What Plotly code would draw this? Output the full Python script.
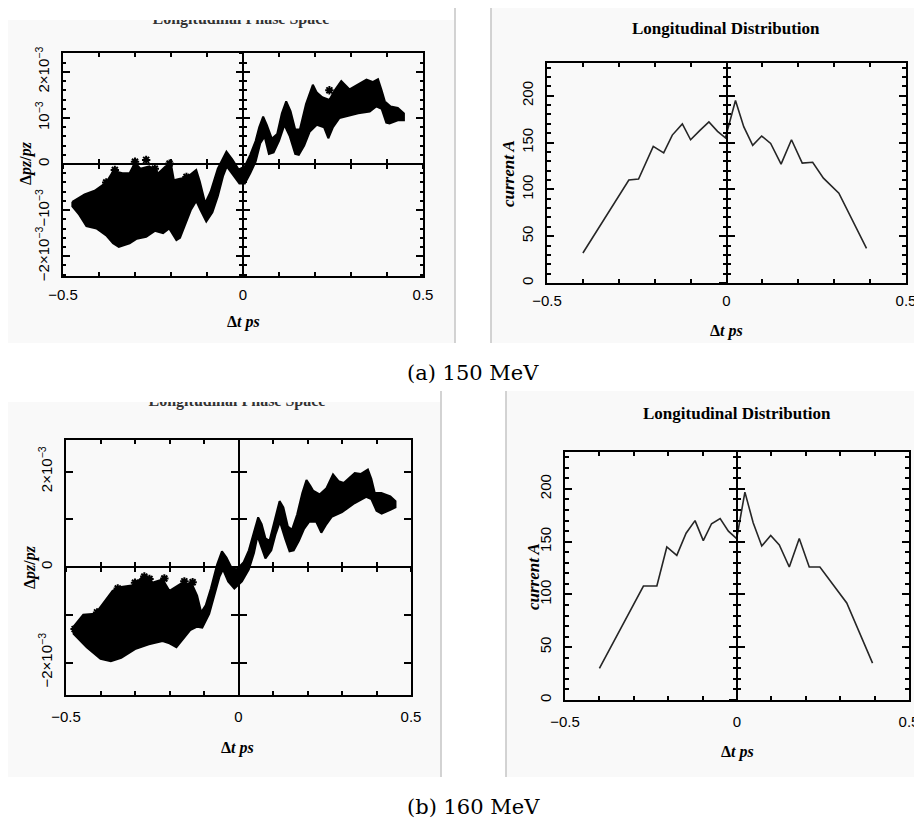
import numpy as np
import plotly.graph_objects as go

W, H = 922, 821          # browser window
OFF = 8                  # default page-body margin of the html page
FW, FH = W - OFF, H - OFF

# ================= DATA =================
# (a) 150 MeV : longitudinal phase space, dpz/pz in units of 1e-3 (outline of the dense point cloud)
a_up_t = [-0.474, -0.44, -0.412, -0.38, -0.36, -0.335, -0.315, -0.3, -0.285, -0.26, -0.235, -0.215, -0.2,
          -0.192, -0.175, -0.157, -0.13, -0.12, -0.105, -0.09, -0.07, -0.046, -0.03, -0.012, 0.005, 0.02,
          0.035, 0.045, 0.056, 0.066, 0.08, 0.095, 0.108, 0.12, 0.132, 0.145, 0.158, 0.175, 0.194, 0.205,
          0.22, 0.24, 0.255, 0.273, 0.296, 0.32, 0.343, 0.36, 0.375, 0.385, 0.394, 0.41, 0.43, 0.447]
a_up_v = [-0.82, -0.66, -0.58, -0.4, -0.15, -0.2, -0.2, 0.03, -0.1, -0.05, -0.2, -0.05, 0.0,
          -0.35, -0.32, -0.3, -0.13, -0.38, -0.85, -0.6, -0.1, 0.27, 0.1, -0.12, -0.05, 0.2,
          0.5, 0.8, 1.03, 0.85, 0.55, 0.65, 1.1, 1.36, 1.15, 0.75, 0.75, 1.3, 1.72, 1.55,
          1.45, 1.39, 1.6, 1.8, 1.62, 1.72, 1.83, 1.78, 1.84, 1.6, 1.36, 1.25, 1.22, 1.1]
a_lo_t = [0.447, 0.43, 0.407, 0.398, 0.385, 0.37, 0.352, 0.32, 0.29, 0.268, 0.25, 0.237, 0.225, 0.205,
          0.185, 0.17, 0.155, 0.145, 0.13, 0.115, 0.1, 0.085, 0.072, 0.06, 0.048, 0.035, 0.02, 0.005,
          -0.01, -0.03, -0.045, -0.055, -0.07, -0.085, -0.102, -0.118, -0.13, -0.145, -0.16, -0.175,
          -0.185, -0.205, -0.222, -0.245, -0.269, -0.295, -0.315, -0.345, -0.361, -0.38, -0.407,
          -0.435, -0.455, -0.474]
a_lo_v = [0.95, 0.95, 0.88, 0.9, 1.2, 1.25, 1.14, 1.1, 1.05, 1.0, 0.8, 0.56, 0.8, 0.85,
          0.7, 0.4, 0.2, 0.22, 0.6, 0.85, 0.5, 0.25, 0.22, 0.6, 0.45, 0.05, -0.2, -0.42,
          -0.42, -0.2, -0.05, -0.25, -0.7, -1.05, -1.25, -1.0, -0.8, -1.0, -1.3, -1.6,
          -1.65, -1.4, -1.5, -1.45, -1.58, -1.62, -1.72, -1.8, -1.72, -1.55, -1.4,
          -1.35, -1.1, -0.92]
a_out_t = [-0.269, -0.3, -0.356, -0.204, -0.213, -0.157, -0.245, -0.38, 0.24]
a_out_v = [0.09, 0.05, -0.13, 0.01, -0.18, -0.28, -0.1, -0.4, 1.6]

# (b) 160 MeV : longitudinal phase space, dpz/pz in units of 1e-3
b_up_t = [-0.478, -0.45, -0.415, -0.39, -0.365, -0.34, -0.305, -0.28, -0.25, -0.22, -0.2, -0.165, -0.135,
          -0.12, -0.108, -0.095, -0.08, -0.062, -0.048, -0.035, -0.02, -0.005, 0.015, 0.03, 0.045, 0.057,
          0.067, 0.078, 0.09, 0.105, 0.119, 0.13, 0.143, 0.155, 0.17, 0.185, 0.197, 0.208, 0.216, 0.235,
          0.255, 0.274, 0.29, 0.305, 0.32, 0.337, 0.355, 0.375, 0.385, 0.395, 0.414, 0.44, 0.455]
b_up_v = [-1.25, -1.0, -0.98, -0.75, -0.5, -0.42, -0.38, -0.22, -0.33, -0.26, -0.5, -0.34, -0.36,
          -0.6, -0.95, -0.8, -0.45, 0.05, 0.33, 0.2, -0.02, -0.05, 0.1, 0.35, 0.75, 1.04,
          0.9, 0.6, 0.55, 1.0, 1.38, 1.25, 0.85, 0.78, 1.1, 1.55, 1.82, 1.7, 1.6, 1.52,
          1.65, 1.94, 1.8, 1.76, 1.85, 1.97, 1.95, 2.04, 1.85, 1.55, 1.55, 1.48, 1.38]
b_lo_t = [0.455, 0.44, 0.415, 0.4, 0.385, 0.37, 0.337, 0.3, 0.27, 0.255, 0.24, 0.225, 0.205, 0.19,
          0.175, 0.16, 0.148, 0.135, 0.12, 0.108, 0.095, 0.078, 0.065, 0.055, 0.045, 0.03, 0.01,
          -0.012, -0.03, -0.045, -0.055, -0.07, -0.085, -0.105, -0.12, -0.14, -0.16, -0.18, -0.2,
          -0.22, -0.26, -0.3, -0.34, -0.37, -0.4, -0.44, -0.478]
b_lo_v = [1.25, 1.2, 1.12, 1.18, 1.42, 1.47, 1.34, 1.15, 1.05, 0.9, 0.72, 0.95, 0.95, 0.8,
          0.55, 0.35, 0.33, 0.6, 0.95, 0.7, 0.35, 0.18, 0.45, 0.65, 0.3, -0.05, -0.3,
          -0.45, -0.3, -0.05, -0.2, -0.62, -0.98, -1.27, -1.25, -1.32, -1.5, -1.68, -1.6,
          -1.55, -1.62, -1.72, -1.9, -1.97, -1.92, -1.68, -1.4]
b_out_t = [-0.273, -0.258, -0.215, -0.35, -0.157, -0.133, -0.3, -0.41, -0.475]
b_out_v = [-0.2, -0.25, -0.24, -0.45, -0.3, -0.32, -0.33, -0.95, -1.3]

# current profiles (A) vs Δt (ps)
a_cur_t = [-0.40, -0.272, -0.245, -0.204, -0.175, -0.151, -0.123, -0.100, -0.074, -0.049, -0.025,
           -0.003, 0.025, 0.048, 0.073, 0.098, 0.123, 0.152, 0.181, 0.211, 0.240, 0.270, 0.313, 0.390]
a_cur_I = [32, 110, 111, 146, 139, 158, 170, 153, 163, 172, 162, 155, 195, 167, 147, 157, 149, 127,
           153, 128, 129, 112, 96, 37]
b_cur_t = [-0.40, -0.272, -0.233, -0.204, -0.175, -0.148, -0.122, -0.098, -0.074, -0.049, -0.025,
           -0.001, 0.023, 0.047, 0.072, 0.098, 0.123, 0.152, 0.181, 0.210, 0.241, 0.270, 0.319, 0.394]
b_cur_I = [30, 108, 108, 145, 137, 158, 170, 151, 167, 172, 160, 153, 197, 168, 146, 156, 147, 126,
           153, 126, 126, 113, 92, 35]

x_tickvals = [-0.5, 0, 0.5]
x_ticktext = ["\u22120.5", "0", "0.5"]
a_ytickvals = [-2e-3, -1e-3, 0, 1e-3, 2e-3]
a_yticktext = ["\u22122\u00d710<sup>\u22123</sup>", "\u221210<sup>\u22123</sup>", "0",
               "10<sup>\u22123</sup>", "2\u00d710<sup>\u22123</sup>"]
b_ytickvals = [-2e-3, -1e-3, 0, 1e-3, 2e-3]
b_yticktext = ["\u22122\u00d710<sup>\u22123</sup>", "", "0", "", "2\u00d710<sup>\u22123</sup>"]
cur_tickvals = [0, 50, 100, 150, 200]
cur_ticktext = ["0", "50", "100", "150", "200"]

# ================= LAYOUT =================
def fx(p):          # page pixel -> paper fraction
    return (p - OFF) / FW

def fy(p):
    return 1 - (p - OFF) / FH

TICKFONT = dict(family="Liberation Sans", size=15, color="black")
SERIF_B = "Liberation Serif"

# panel boxes in page pixels: (x0, x1, ytop, ybottom)
P = {
    1: (63, 423, 53, 276),
    2: (547, 906, 63, 283),
    3: (66, 411, 440, 695),
    4: (565, 909, 452, 700),
}
yr = {1: [-2.43e-3, 2.41e-3], 2: [0, 235], 3: [-2.68e-3, 2.66e-3], 4: [0, 235]}
x_standoff = {1: 4, 2: 3, 3: 7, 4: 7}

def name(a, k):
    return a if k == 1 else f"{a}{k}"

fig = go.Figure()

for k, (ut, uv, lt, lv, ot, ov) in {1: (a_up_t, a_up_v, a_lo_t, a_lo_v, a_out_t, a_out_v),
                                    3: (b_up_t, b_up_v, b_lo_t, b_lo_v, b_out_t, b_out_v)}.items():
    xs = list(ut) + list(lt) + [ut[0]]
    ys = (np.array(list(uv) + list(lv) + [uv[0]]) * 1e-3).tolist()
    fig.add_trace(go.Scatter(x=xs, y=ys, mode="lines", fill="toself", fillcolor="black",
                             line=dict(color="black", width=2), xaxis=name("x", k),
                             yaxis=name("y", k), hoverinfo="skip", showlegend=False))
    fig.add_trace(go.Scatter(x=ot, y=(np.array(ov) * 1e-3).tolist(), mode="markers",
                             marker=dict(symbol="asterisk-open", size=7, color="black",
                                         line=dict(color="black", width=2)),
                             xaxis=name("x", k), yaxis=name("y", k),
                             hoverinfo="skip", showlegend=False))

for k, (tt, ii) in {2: (a_cur_t, a_cur_I), 4: (b_cur_t, b_cur_I)}.items():
    fig.add_trace(go.Scatter(x=tt, y=ii, mode="lines", line=dict(color="#262626", width=1.6),
                             xaxis=f"x{k}", yaxis=f"y{k}", showlegend=False))

layout = dict(template="none", width=FW, height=FH,
              margin=dict(l=0, r=0, t=0, b=0, pad=0, autoexpand=False),
              paper_bgcolor="white", plot_bgcolor="rgba(0,0,0,0)", showlegend=False)

for k, (x0, x1, yt, yb) in P.items():
    is_cur = k in (2, 4)
    layout[name("xaxis", k)] = dict(
        domain=[fx(x0), fx(x1)], range=[-0.5, 0.5], anchor=name("y", k), automargin=False,
        tickmode="array", tickvals=x_tickvals, ticktext=x_ticktext, ticks="inside", ticklen=7,
        tickwidth=2, tickcolor="black", showline=True, linecolor="black",
        linewidth=2, mirror="ticks", showgrid=False, zeroline=False,
        tickfont=TICKFONT, ticklabelstandoff=x_standoff[k],
        minor=dict(tickmode="linear", tick0=0, dtick=0.1, ticks="inside", ticklen=4,
                   tickwidth=2, tickcolor="black", showgrid=False))
    if is_cur:
        ytv, ytt, mdt, mlen = cur_tickvals, cur_ticktext, 10, 4
    elif k == 1:
        ytv, ytt, mdt, mlen = a_ytickvals, a_yticktext, 0.2e-3, 3
    else:
        ytv, ytt, mdt, mlen = b_ytickvals, b_yticktext, None, 0
    ydict = dict(
        domain=[fy(yb), fy(yt)], range=yr[k], anchor=name("x", k), automargin=False,
        tickmode="array", tickvals=ytv, ticktext=ytt, ticks="inside", ticklen=7,
        tickwidth=2, tickcolor="black", showline=True, linecolor="black",
        linewidth=2, mirror="ticks", showgrid=False, zeroline=False,
        tickfont=TICKFONT, tickangle=-90, ticklabelstandoff=6)
    if mdt:
        ydict["minor"] = dict(tickmode="linear", tick0=0, dtick=mdt, ticks="inside", ticklen=mlen,
                              tickwidth=2, tickcolor="black", showgrid=False)
    layout[name("yaxis", k)] = ydict

# centre axes: vertical through t = 0 (all panels), horizontal through 0 (phase-space panels)
nid = 5
for k, (x0, x1, yt, yb) in P.items():
    is_cur = k in (2, 4)
    if is_cur:
        dt, mdt, mlen, mlen_major = 50, 10, 3, 7
    elif k == 1:
        dt, mdt, mlen, mlen_major = 1e-3, 0.2e-3, 3, 6
    else:
        dt, mdt, mlen, mlen_major = 1e-3, None, 0, 7
    for side in ("inside", "outside"):
        ax = dict(overlaying=name("y", k), anchor="free", position=fx((x0 + x1) / 2), range=yr[k],
                  automargin=False, tickmode="linear", tick0=0, dtick=dt, ticks=side,
                  ticklen=mlen_major, tickwidth=2, tickcolor="black", showline=True,
                  linecolor="black", linewidth=2, showticklabels=False, showgrid=False,
                  zeroline=False)
        if mdt:
            ax["minor"] = dict(tickmode="linear", tick0=0, dtick=mdt, ticks=side, ticklen=mlen,
                               tickwidth=2, tickcolor="black", showgrid=False)
        layout[f"yaxis{nid}"] = ax
        fig.add_trace(go.Scatter(x=[], y=[], xaxis=name("x", k), yaxis=f"y{nid}", showlegend=False))
        nid += 1

xid = 5
for k in (1, 3):
    x0, x1, yt, yb = P[k]
    r0, r1 = yr[k]
    d0, d1 = fy(yb), fy(yt)
    pos = d0 + (0 - r0) / (r1 - r0) * (d1 - d0)
    for side in ("inside", "outside"):
        layout[f"xaxis{xid}"] = dict(
            overlaying=name("x", k), anchor="free", position=pos, range=[-0.5, 0.5],
            automargin=False, tickmode="linear", tick0=0, dtick=0.1, ticks=side, ticklen=4,
            tickwidth=2, tickcolor="black", showline=True, linecolor="black", linewidth=2,
            showticklabels=False, showgrid=False, zeroline=False)
        fig.add_trace(go.Scatter(x=[], y=[], xaxis=f"x{xid}", yaxis=name("y", k), showlegend=False))
        xid += 1

# cut-off titles at the top of the phase-space sub-images
for (top_px, bot_px, cx) in ((20, 60, 241), (402, 440, 237)):
    layout[f"xaxis{xid}"] = dict(domain=[0, 1], range=[OFF, W], visible=False, anchor=f"y{nid}",
                                 automargin=False)
    layout[f"yaxis{nid}"] = dict(domain=[fy(bot_px), fy(top_px)], range=[0, 1], visible=False,
                                 anchor=f"x{xid}", automargin=False)
    fig.add_trace(go.Scatter(x=[cx], y=[1.0], mode="text", text=["<b>Longitudinal Phase Space</b>"],
                             textposition="middle center",
                             textfont=dict(family=SERIF_B, size=16, color="#333333"),
                             xaxis=f"x{xid}", yaxis=f"y{nid}", cliponaxis=True, hoverinfo="skip",
                             showlegend=False))
    xid += 1
    nid += 1

shapes = []
for (x0, x1, y0, y1) in ((7, 455, 20, 343), (491, 922, 3, 343), (7, 441, 402, 777), (506, 922, 391, 777)):
    shapes.append(dict(type="rect", xref="paper", yref="paper", x0=fx(x0), x1=fx(x1), y0=fy(y1),
                       y1=fy(y0), fillcolor="#f9f9f9", line=dict(width=0), layer="below"))
for (x, y0, y1) in ((455, 0, 343), (491, 3, 343), (441, 391, 777), (506, 391, 777)):
    shapes.append(dict(type="line", xref="paper", yref="paper", x0=fx(x), x1=fx(x), y0=fy(y1),
                       y1=fy(y0), line=dict(color="#c4c4c4", width=1.5), layer="below"))
layout["shapes"] = shapes

def ann(text, x, y, size, family=SERIF_B, angle=0, color="black"):
    return dict(text=text, x=fx(x), y=fy(y), xref="paper", yref="paper", showarrow=False,
                xanchor="center", yanchor="middle", textangle=angle,
                font=dict(family=family, size=size, color=color))

layout["annotations"] = [
    ann("<b>Longitudinal Distribution</b>", 726, 29, 17),
    ann("<b>Longitudinal Distribution</b>", 737, 413, 17),
    ann("<b>\u0394<i>t</i> <i>ps</i></b>", 243, 322, 16),
    ann("<b>\u0394<i>t</i> <i>ps</i></b>", 726, 331, 16),
    ann("<b>\u0394<i>t</i> <i>ps</i></b>", 238, 748, 16),
    ann("<b>\u0394<i>t</i> <i>ps</i></b>", 737, 752, 16),
    ann("<b>\u0394<i>pz</i>/<i>pz</i></b>", 26, 163, 16, angle=-90),
    ann("<b>\u0394<i>pz</i>/<i>pz</i></b>", 30, 567, 16, angle=-90),
    ann("<b><i>current A</i></b>", 508, 173, 17, angle=-90),
    ann("<b><i>current A</i></b>", 533, 577, 17, angle=-90),
    ann("(a) 150 MeV", 473, 373, 21, family="DejaVu Serif"),
    ann("(b) 160 MeV", 473, 807, 21, family="DejaVu Serif"),
]

fig.update_layout(**layout)
fig.write_html("out.html")
